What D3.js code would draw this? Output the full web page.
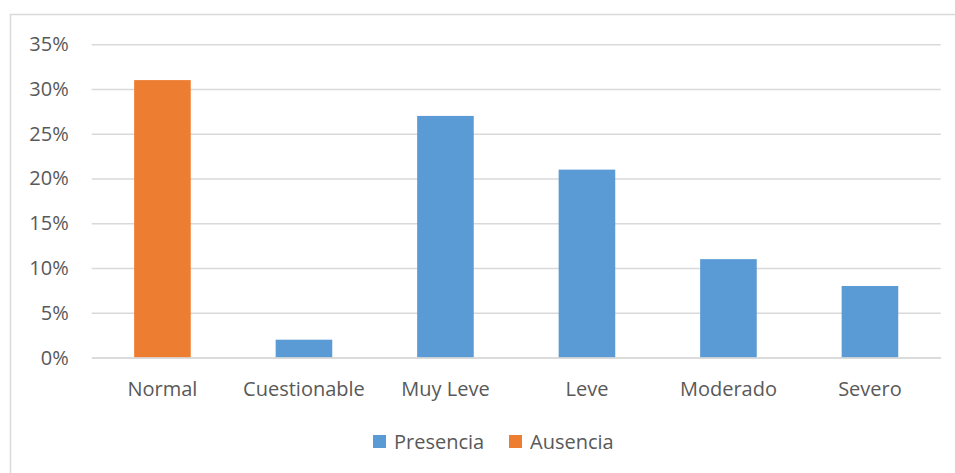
<!DOCTYPE html>
<html><head><meta charset="utf-8">
<script src="https://cdn.jsdelivr.net/npm/d3@7"></script>
<style>html,body{margin:0;padding:0;background:#fff;}svg{display:block;}</style>
</head><body>
<svg id="chart" width="955" height="473"></svg>
<script>
const categories = ["Normal", "Cuestionable", "Muy Leve", "Leve", "Moderado", "Severo"];
const values = [31, 2, 27, 21, 11, 8];
const seriesOf = ["Ausencia", "Presencia", "Presencia", "Presencia", "Presencia", "Presencia"];
const seriesNames = ["Presencia", "Ausencia"];
const seriesColors = ["#5B9BD5", "#ED7D31"];
const yTicks = [0, 5, 10, 15, 20, 25, 30, 35];

const svg = d3.select("#chart");
const font = "'Open Sans', 'Noto Sans', sans-serif";
const textColor = "#595959";
const fs = "20px";

// chart border
svg.append("rect").attr("x", 10.5).attr("y", 14.5).attr("width", 960).attr("height", 480)
  .attr("fill", "none").attr("stroke", "#d9d9d9").attr("stroke-width", 1.5);

const mLeft = 91.7, mRight = 940.7, mTop = 44.3, mBottom = 357.6;
const x = d3.scaleBand().domain(categories).range([mLeft, mRight]).paddingInner(0.6).paddingOuter(0.3);
const y = d3.scaleLinear().domain([0, 35]).range([mBottom, mTop]);
const color = d3.scaleOrdinal().domain(seriesNames).range(seriesColors);

// gridlines
const yAxis = d3.axisLeft(y).tickValues(yTicks).tickFormat(d => d + "%").tickSize(-(mRight - mLeft)).tickPadding(23);
const gy = svg.append("g").attr("transform", `translate(${mLeft},0)`).call(yAxis);
gy.select(".domain").remove();
gy.selectAll(".tick line").attr("stroke", "#d9d9d9").attr("stroke-width", 1.5);
gy.selectAll(".tick text").attr("fill", textColor).style("font-family", font).style("font-size", fs);

// bars
svg.append("g").selectAll("rect").data(categories).join("rect")
  .attr("x", d => x(d))
  .attr("width", x.bandwidth())
  .attr("y", (d, i) => y(values[i]))
  .attr("height", (d, i) => y(0) - y(values[i]))
  .attr("fill", (d, i) => color(seriesOf[i]));

// x axis
const xAxis = d3.axisBottom(x).tickSize(0).tickPadding(24);
const gx = svg.append("g").attr("transform", `translate(0,${mBottom})`).call(xAxis);
gx.select(".domain").attr("stroke", "#d9d9d9").attr("stroke-width", 1.5);
gx.selectAll(".tick text").attr("fill", textColor).style("font-family", font).style("font-size", fs);

// legend
const legendItems = [{name: "Presencia", x: 373}, {name: "Ausencia", x: 509}];
const lg = svg.append("g").selectAll("g").data(legendItems).join("g")
  .attr("transform", d => `translate(${d.x},435)`);
lg.append("rect").attr("width", 13).attr("height", 13).attr("fill", d => color(d.name));
lg.append("text").attr("x", 21).attr("y", 7).attr("dy", "0.35em")
  .attr("fill", textColor).style("font-family", font).style("font-size", fs)
  .text(d => d.name);
</script>
</body></html>
